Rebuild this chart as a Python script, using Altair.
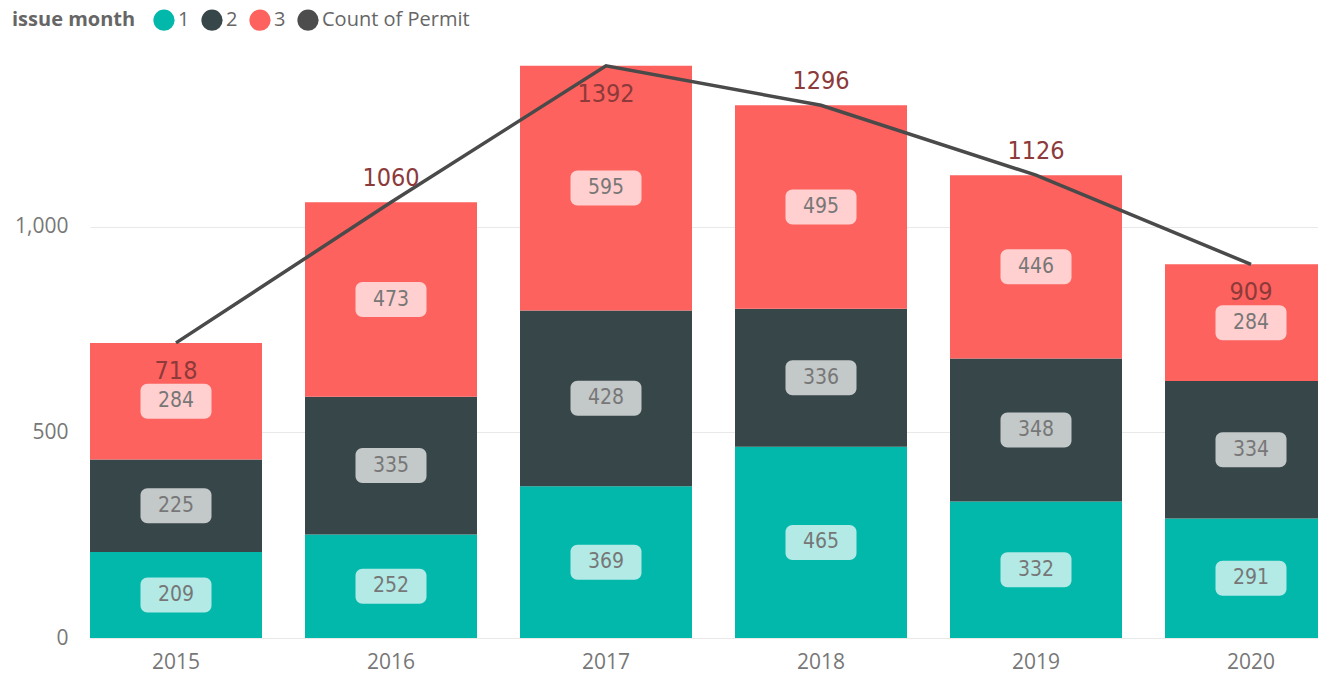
import altair as alt
import pandas as pd

years = ["2015", "2016", "2017", "2018", "2019", "2020"]
month_1 = [209, 252, 369, 465, 332, 291]
month_2 = [225, 335, 428, 336, 348, 334]
month_3 = [284, 473, 595, 495, 446, 284]
totals = [718, 1060, 1392, 1296, 1126, 909]
total_label_side = ["below", "above", "below", "above", "above", "below"]
months = ["1", "2", "3"]
legend_items = ["1", "2", "3", "Count of Permit"]
colors = ["#01B8AA", "#374649", "#FD625E", "#4D4D4D"]

rows = []
for i, y in enumerate(years):
    base = 0
    for m, vals in zip(months, [month_1, month_2, month_3]):
        v = vals[i]
        rows.append({"year": y, "month": m, "order": int(m), "count": v,
                     "start": base, "end": base + v, "mid": base + v / 2})
        base += v
bars_df = pd.DataFrame(rows)
tot_df = pd.DataFrame({"year": years, "total": totals, "side": total_label_side})

xenc = alt.X("year:N", title=None, sort=years,
             scale=alt.Scale(paddingInner=0.2, paddingOuter=0, range=[0, 1247]),
             axis=alt.Axis(labelAngle=0, domain=False, ticks=False, labelFontSize=21,
                           labelColor="#777777", labelFont="Open Sans", labelPadding=13))
yscale = alt.Scale(domain=[0, 1450], nice=False, zero=True)

bars = alt.Chart(bars_df).mark_bar(clip=True).encode(
    x=xenc,
    y=alt.Y("start:Q", scale=yscale, title=None,
            axis=alt.Axis(values=[0, 500, 1000], format=",d", domain=False, ticks=False,
                          grid=True, gridColor="#e9e9e9", labelFontSize=21,
                          labelColor="#777777", labelFont="Open Sans", labelPadding=22)),
    y2="end:Q",
    color=alt.Color("month:N", scale=alt.Scale(domain=legend_items, range=colors),
                    legend=alt.Legend(title="issue month", orient="none", legendX=-78, legendY=-33,
                                      direction="horizontal", titleOrient="left",
                                      titleFontSize=20, titleColor="#666666", titleFont="Open Sans",
                                      titleFontWeight="bold", titlePadding=17,
                                      labelFontSize=20, labelColor="#666666", labelFont="Open Sans",
                                      symbolType="circle", symbolSize=450, symbolStrokeWidth=0,
                                      labelOffset=3, columnPadding=11)),
)

boxes = alt.Chart(bars_df).mark_bar(width=71, cornerRadius=7, yOffset=-17.5, y2Offset=17.5,
                                    color="white", opacity=0.7).encode(
    x=alt.X("year:N", sort=years),
    y=alt.Y("mid:Q", scale=yscale),
    y2="mid:Q",
)

box_text = alt.Chart(bars_df).mark_text(fontSize=21, color="#777777",
                                        font="DejaVu Sans Condensed", baseline="middle").encode(
    x=alt.X("year:N", sort=years),
    y=alt.Y("mid:Q", scale=yscale),
    text="count:Q",
)

line = alt.Chart(tot_df).mark_line(color="#4a4a4a", strokeWidth=3.5).encode(
    x=alt.X("year:N", sort=years),
    y=alt.Y("total:Q", scale=yscale),
)

tot_below = alt.Chart(tot_df).transform_filter(alt.datum.side == "below").mark_text(
    fontSize=25, color="#8c3a3a", font="DejaVu Sans Condensed", dy=28, baseline="middle").encode(
    x=alt.X("year:N", sort=years),
    y=alt.Y("total:Q", scale=yscale),
    text="total:Q",
)
tot_above = alt.Chart(tot_df).transform_filter(alt.datum.side == "above").mark_text(
    fontSize=25, color="#8c3a3a", font="DejaVu Sans Condensed", dy=-24, baseline="middle").encode(
    x=alt.X("year:N", sort=years),
    y=alt.Y("total:Q", scale=yscale),
    text="total:Q",
)

chart = alt.layer(bars, boxes, box_text, line, tot_below, tot_above).properties(
    width=1228, height=596,
    autosize=alt.AutoSizeParams(type="none"),
    padding={"left": 82, "top": 34, "right": 0, "bottom": 36},
).configure_view(stroke=None)

chart.save("out.html", embed_options={"renderer": "svg", "actions": False})
